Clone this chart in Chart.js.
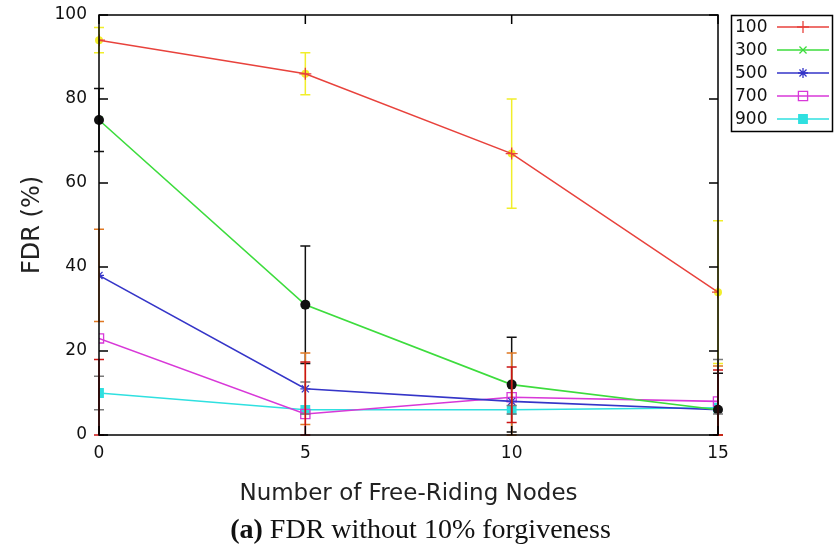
<!DOCTYPE html>
<html>
<head>
<meta charset="utf-8">
<title>FDR without forgiveness</title>
<script src="https://cdn.jsdelivr.net/npm/chart.js@4/dist/chart.umd.min.js"></script>
<style>
  body { margin: 0; background: #fff; overflow: hidden; }
  #wrap { position: relative; width: 835px; height: 550px; }
  #caption {
    position: absolute; left: 3px; top: 513px; width: 835px;
    text-align: center; font-family: "Liberation Serif", serif;
    font-size: 28px; color: #111; white-space: nowrap;
  }
</style>
</head>
<body>
<div id="wrap">
  <canvas id="fdr-chart" width="835" height="550"></canvas>
  <div id="caption"><b>(a)</b> FDR without 10% forgiveness</div>
</div>
<script>
// Number of free-riding nodes on the x axis
const freeRiders = [0, 5, 10, 15];
const seriesNames = ['100', '300', '500', '700', '900'];

// FDR (%) per network size
const fdr100 = [94, 86, 67, 34];
const fdr300 = [75, 31, 12, 6];
const fdr500 = [38, 11, 8, 6];
const fdr700 = [23, 5, 9, 8];
const fdr900 = [10, 6, 6, 6.5];

// error bar ranges (low / high)
const err100Low = [91, 81, 54, 17];
const err100High = [97, 91, 80, 51];
const err300Low = [67.5, 17, 0.7, 0];
const err300High = [82.5, 45, 23.3, 14.7];
const err500Low = [27, 2.5, 0, 0];
const err500High = [49, 19.5, 19.5, 16.4];
const err700Low = [0, 0, 3, 0];
const err700High = [18, 17.4, 16.2, 15.5];
const err900Low = [6, 5, 5, 5];
const err900High = [14, 12.6, 7, 18];

const yTicks = [0, 20, 40, 60, 80, 100];
const xTicks = [0, 5, 10, 15];

const FONT = '"DejaVu Sans", sans-serif';

function toPoints(values) {
    return values.map((v, i) => ({ x: freeRiders[i], y: v }));
}

const lineStyles = [
    { color: '#e8423c', pointStyle: 'cross', radius: 6, fill: 'transparent' },
    { color: '#3ddc3d', pointStyle: 'crossRot', radius: 5, fill: 'transparent' },
    { color: '#3535c8', pointStyle: 'star', radius: 5, fill: 'transparent' },
    { color: '#d838d8', pointStyle: 'rect', radius: 6.5, fill: 'transparent' },
    { color: '#2fe0e0', pointStyle: 'rect', radius: 6, fill: '#2fe0e0' }
];
const seriesValues = [fdr100, fdr300, fdr500, fdr700, fdr900];

const datasets = seriesValues.map((vals, i) => ({
    label: seriesNames[i],
    data: toPoints(vals),
    borderColor: lineStyles[i].color,
    backgroundColor: lineStyles[i].fill,
    borderWidth: 1.6,
    pointStyle: lineStyles[i].pointStyle,
    pointRadius: lineStyles[i].radius,
    pointBorderColor: lineStyles[i].color,
    pointBackgroundColor: lineStyles[i].fill,
    pointBorderWidth: 1.3,
    tension: 0
}));

// error bar groups; "under" ones go beneath the lines
const errorGroups = [
    { low: err100Low, high: err100High, center: fdr100, color: 'rgba(240,236,20,0.9)', dot: 4, under: true },
    { low: err300Low, high: err300High, center: fdr300, color: '#111111', dot: 5, under: false },
    { low: err500Low, high: err500High, center: null, color: '#e07822', dot: 0, under: false },
    { low: err900Low, high: err900High, center: null, color: '#7a7a7a', dot: 0, under: false },
    { low: err700Low, high: err700High, center: null, color: '#cc1414', dot: 0, under: false }
];

function drawErrorGroup(chart, g) {
    const { ctx, chartArea, scales } = chart;
    ctx.save();
    ctx.beginPath();
    ctx.rect(chartArea.left - 8, chartArea.top - 2, chartArea.width + 16, chartArea.height + 3);
    ctx.clip();
    ctx.strokeStyle = g.color;
    ctx.fillStyle = g.color;
    ctx.lineWidth = 1.5;
    freeRiders.forEach((xv, i) => {
        const x = scales.x.getPixelForValue(xv);
        const yLo = scales.y.getPixelForValue(g.low[i]);
        const yHi = scales.y.getPixelForValue(g.high[i]);
        ctx.beginPath();
        ctx.moveTo(x, yLo);
        ctx.lineTo(x, yHi);
        ctx.moveTo(x - 5, yLo);
        ctx.lineTo(x + 5, yLo);
        ctx.moveTo(x - 5, yHi);
        ctx.lineTo(x + 5, yHi);
        ctx.stroke();
        if (g.center && g.dot) {
            ctx.beginPath();
            ctx.arc(x, scales.y.getPixelForValue(g.center[i]), g.dot, 0, Math.PI * 2);
            ctx.fill();
        }
    });
    ctx.restore();
}

const errorBars = {
    id: 'errorBars',
    beforeDatasetsDraw(chart) {
        errorGroups.filter(g => g.under).forEach(g => drawErrorGroup(chart, g));
    },
    afterDatasetsDraw(chart) {
        errorGroups.filter(g => !g.under).forEach(g => drawErrorGroup(chart, g));
    }
};

// gnuplot style border with inward ticks on all four sides
const frame = {
    id: 'frame',
    afterDraw(chart) {
        const { ctx, chartArea: a, scales } = chart;
        ctx.save();
        ctx.strokeStyle = '#000';
        ctx.lineWidth = 1.5;
        ctx.strokeRect(a.left, a.top, a.width, a.height);
        ctx.beginPath();
        yTicks.forEach(v => {
            const y = scales.y.getPixelForValue(v);
            ctx.moveTo(a.left, y); ctx.lineTo(a.left + 9, y);
            ctx.moveTo(a.right, y); ctx.lineTo(a.right - 9, y);
        });
        xTicks.forEach(v => {
            const x = scales.x.getPixelForValue(v);
            ctx.moveTo(x, a.bottom); ctx.lineTo(x, a.bottom - 9);
            ctx.moveTo(x, a.top); ctx.lineTo(x, a.top + 9);
        });
        ctx.stroke();
        ctx.restore();
    }
};

// boxed key in the top right corner
const keyBox = {
    id: 'keyBox',
    afterDraw(chart) {
        const { ctx } = chart;
        const left = 731, top = 15, w = 101, rowH = 23;
        ctx.save();
        ctx.strokeStyle = '#000';
        ctx.lineWidth = 1.5;
        ctx.strokeRect(left + 0.5, top + 0.5, w, rowH * chart.data.datasets.length + 1);
        ctx.font = '17px ' + FONT;
        ctx.textBaseline = 'middle';
        chart.data.datasets.forEach((ds, i) => {
            const y = top + 12 + i * rowH;
            ctx.fillStyle = '#111';
            ctx.fillText(ds.label, left + 4, y + 1);
            ctx.strokeStyle = ds.borderColor;
            ctx.lineWidth = 1.5;
            ctx.beginPath();
            ctx.moveTo(777, y);
            ctx.lineTo(829, y);
            ctx.stroke();
            if (Chart.helpers && Chart.helpers.drawPoint) {
                ctx.fillStyle = ds.pointBackgroundColor;
                ctx.lineWidth = ds.pointBorderWidth;
                Chart.helpers.drawPoint(ctx, {
                    pointStyle: ds.pointStyle,
                    radius: ds.pointRadius,
                    borderWidth: ds.pointBorderWidth,
                    rotation: 0
                }, 803, y);
            }
        });
        ctx.restore();
    }
};

const chartCtx = document.getElementById('fdr-chart').getContext('2d');
new Chart(chartCtx, {
    type: 'line',
    data: { datasets: datasets },
    options: {
        responsive: false,
        animation: false,
        layout: { padding: { left: 0, right: 117, top: 15, bottom: 35 } },
        scales: {
            x: {
                type: 'linear',
                min: 0,
                max: 15,
                afterFit: s => { s.height = 80; },
                ticks: { stepSize: 5, padding: 8, color: '#111', font: { family: FONT, size: 17 } },
                grid: { display: false, drawTicks: false },
                border: { display: false },
                title: {
                    display: true,
                    text: 'Number of Free-Riding Nodes',
                    color: '#222',
                    font: { family: FONT, size: 23 },
                    padding: { top: 0, bottom: 7 }
                }
            },
            y: {
                min: 0,
                max: 100,
                afterFit: s => { s.width = 99; s.paddingTop = 0; s.paddingBottom = 0; },
                ticks: { stepSize: 20, padding: 12, color: '#111', font: { family: FONT, size: 17 } },
                grid: { display: false, drawTicks: false },
                border: { display: false },
                title: {
                    display: true,
                    text: 'FDR (%)',
                    color: '#222',
                    font: { family: FONT, size: 24 },
                    padding: { top: 18, bottom: 0 }
                }
            }
        },
        plugins: {
            legend: { display: false },
            tooltip: { enabled: false }
        }
    },
    plugins: [errorBars, frame, keyBox]
});
</script>
</body>
</html>
